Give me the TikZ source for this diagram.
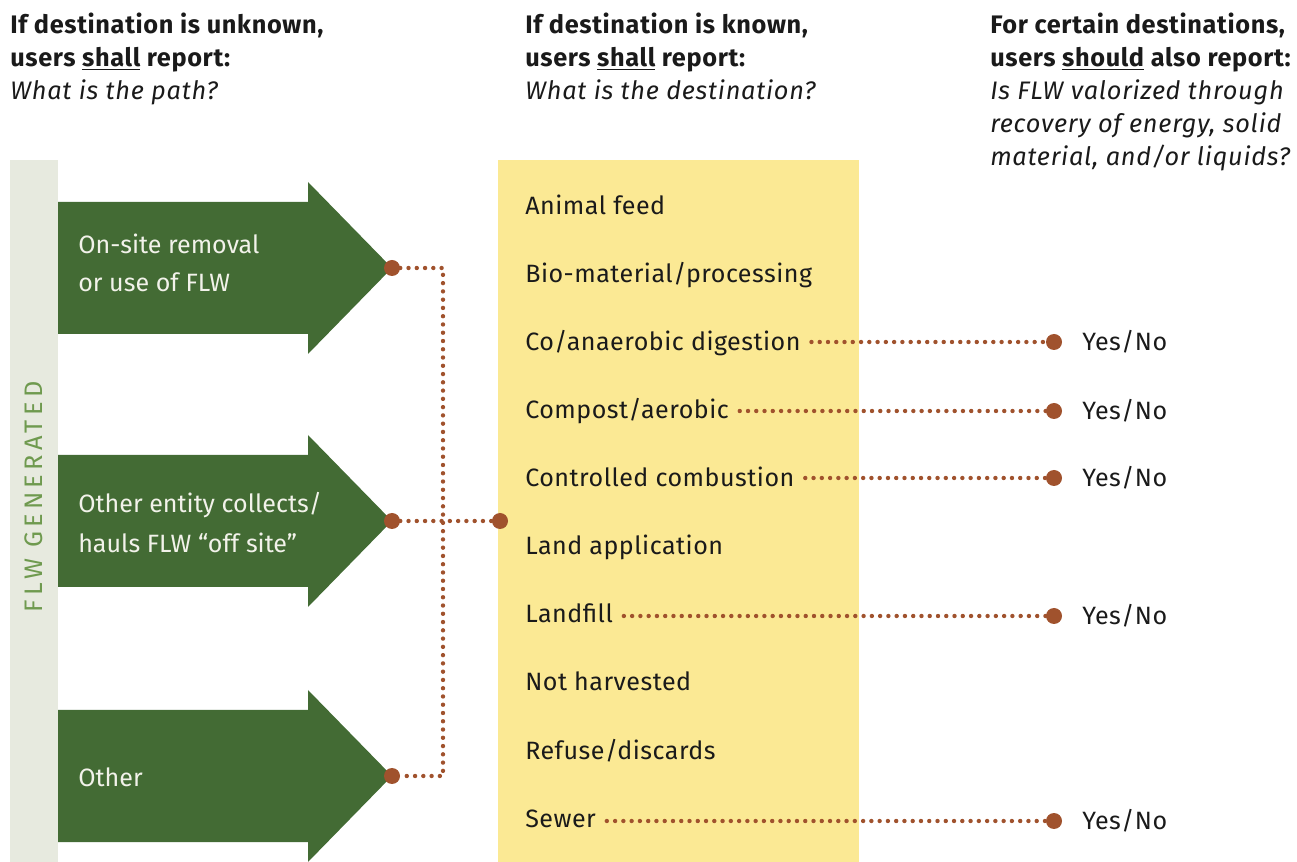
\documentclass[tikz,border=0pt]{standalone}
\usepackage{fontspec}
\setmainfont{Fira Sans}
\definecolor{flwgreen}{HTML}{436B34}
\definecolor{barbg}{HTML}{E7EADF}
\definecolor{bartext}{HTML}{6F9A4F}
\definecolor{destyellow}{HTML}{FBE994}
\definecolor{dotbrown}{HTML}{A0522D}
\definecolor{ink}{HTML}{1A1A1A}
\definecolor{paleink}{HTML}{F2F2EA}
\begin{document}
\begin{tikzpicture}[x=0.75pt,y=-0.75pt,
  txt/.style={anchor=base west,inner sep=0pt,text=ink,font=\fontsize{18.8}{22}\selectfont},
  dtxt/.style={txt,font=\fontsize{18.8}{22}\selectfont\addfontfeatures{LetterSpace=2}},
  hbold/.style={txt,font=\fontsize{19}{22}\selectfont\bfseries\addfontfeatures{LetterSpace=2.5}},
  hital/.style={txt,font=\fontsize{19}{22}\selectfont\itshape\addfontfeatures{LetterSpace=3}},
  arrtxt/.style={txt,text=paleink},
  bigdot/.style={circle,fill=dotbrown,minimum size=12pt,inner sep=0pt},
  dotline/.style={dotbrown,line width=3.3pt,line cap=round,dash pattern=on 0pt off 6.2pt},
  arrowshape/.style={fill=flwgreen,draw=none}]
\useasboundingbox (0,0) rectangle (1297,862);

% column headers
\node[hbold] (h1a) at (10,34) {If destination is unknown,};
\node[hbold] (h1b) at (10,67) {users \underline{shall} report:};
\node[hital] (h1c) at (10,100) {What is the path?};
\node[hbold] (h2a) at (525,34) {If destination is known,};
\node[hbold] (h2b) at (525,67) {users \underline{shall} report:};
\node[hital] (h2c) at (525,100) {What is the destination?};
\node[hbold] (h3a) at (990,34) {For certain destinations,};
\node[hbold] (h3b) at (990,67) {users \underline{should} also report:};
\node[hital] (h3c) at (990,100) {Is FLW valorized through};
\node[hital] (h3d) at (990,133) {recovery of energy, solid};
\node[hital] (h3e) at (990,166) {material, and/or liquids?};

% FLW generated bar
\fill[barbg] (10,160) rectangle (58,862);
\node[rotate=90,inner sep=0pt,text=bartext,font=\fontsize{19}{22}\selectfont\addfontfeatures{LetterSpace=17}] (flw) at (34,497) {FLW GENERATED};

% yellow destination box
\fill[destyellow] (498,160) rectangle (859,862);

% green arrows
\foreach \cy in {268,521,776}{
  \fill[arrowshape] (58,\cy-66) -- (308,\cy-66) -- (308,\cy-86) -- (392,\cy) -- (308,\cy+86) -- (308,\cy+66) -- (58,\cy+66) -- cycle;
}
\node[arrtxt] (p1a) at (78,254) {On-site removal};
\node[arrtxt] (p1b) at (78,292) {or use of FLW};
\node[arrtxt] (p2a) at (78,513) {Other entity collects/};
\node[arrtxt] (p2b) at (78,553) {hauls FLW “off site”};
\node[arrtxt] (p3a) at (78,787) {Other};

% path dots and connectors
\node[bigdot] (a1) at (392,268) {};
\node[bigdot] (a2) at (392,521) {};
\node[bigdot] (a3) at (392,776) {};
\node[bigdot] (m) at (500,521) {};
\coordinate (j1) at (443,268);
\coordinate (j3) at (443,776);
\draw[dotline] (a1) -- (j1) -- (j3) -- (a3);
\draw[dotline] (a2) -- (m);

% destinations
\node[dtxt] (i1) at (525,215) {Animal feed};
\node[dtxt] (i2) at (525,283) {Bio-material/processing};
\node[dtxt] (i3) at (525,351) {Co/anaerobic digestion};
\node[dtxt] (i4) at (525,419) {Compost/aerobic};
\node[dtxt] (i5) at (525,487) {Controlled combustion};
\node[dtxt] (i6) at (525,555) {Land application};
\node[dtxt] (i7) at (525,623) {Landfill};
\node[dtxt] (i8) at (525,691) {Not harvested};
\node[dtxt] (i9) at (525,759) {Refuse/discards};
\node[dtxt] (i10) at (525,827) {Sewer};

% valorization dots
\node[bigdot] (d3) at (1054,342) {};
\node[bigdot] (d4) at (1054,411) {};
\node[bigdot] (d5) at (1054,478) {};
\node[bigdot] (d7) at (1054,616) {};
\node[bigdot] (d10) at (1054,821) {};
\node[dtxt] (y3) at (1082,351) {Yes/No};
\node[dtxt] (y4) at (1082,420) {Yes/No};
\node[dtxt] (y5) at (1082,487) {Yes/No};
\node[dtxt] (y7) at (1082,625) {Yes/No};
\node[dtxt] (y10) at (1082,830) {Yes/No};
\foreach \k in {3,4,5,7,10}{
  \draw[dotline,shorten <=8pt] (i\k.east |- d\k) -- (d\k);
}
\end{tikzpicture}
\end{document}
